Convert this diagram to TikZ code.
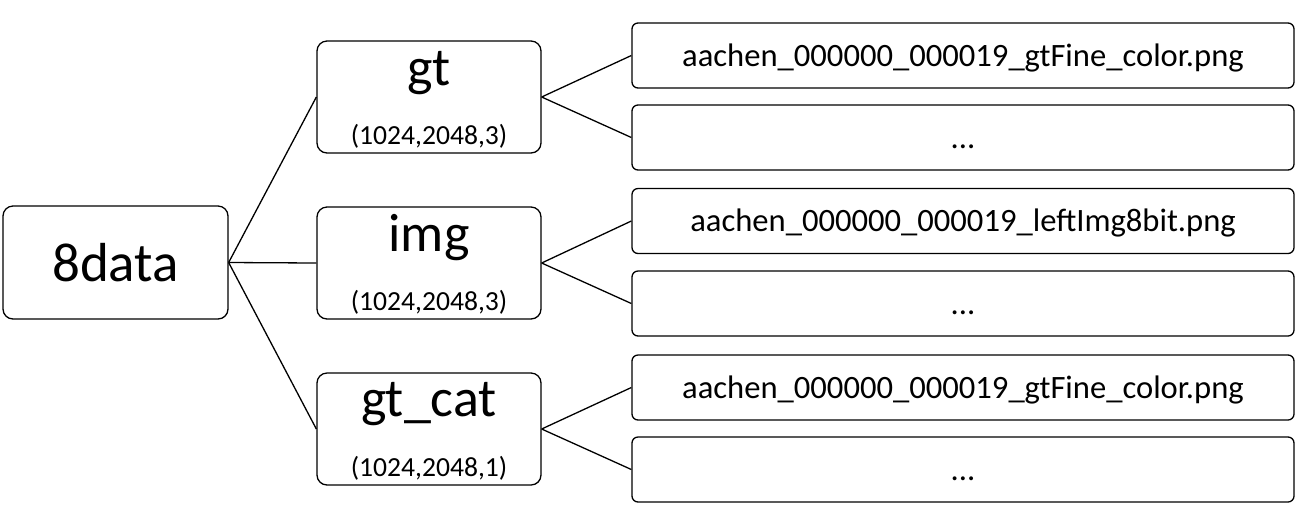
\documentclass[tikz,border=0pt]{standalone}
\usepackage{fontspec}
\setmainfont{Carlito}
\usepackage{tikz}

\tikzset{
  box/.style={draw, line width=0.65pt, rounded corners=5pt, inner sep=0pt},
  rootbox/.style={box, minimum width=112.5pt, minimum height=56.5pt, font=\fontsize{27.5}{30}\selectfont},
  dirbox/.style={box, minimum width=112pt, minimum height=56pt},
  filebox/.style={box, rounded corners=3pt, minimum width=331pt, minimum height=32.5pt,
    text height=12pt, text depth=1.5pt, font=\fontsize{16.3}{18}\selectfont},
  dirname/.style={anchor=base, inner sep=0pt, font=\fontsize{27}{29}\selectfont},
  dirshape/.style={anchor=base, inner sep=0pt, font=\fontsize{13.8}{15}\selectfont},
  link/.style={line width=0.65pt}
}

\begin{document}
\begin{tikzpicture}[x=0.5pt, y=-0.5pt]
  \useasboundingbox (0,0) rectangle (1301,516);

  \node[rootbox] (data) at (115.5,262.5) {8data};

  \node[dirbox] (gt) at (429,97) {};
  \node[dirbox] (img) at (429,263) {};
  \node[dirbox] (cat) at (429,429) {};

  \node[dirname] (gtname) at (429,85) {gt};
  \node[dirshape] (gtshape) at (429,144) {(1024,2048,3)};
  \node[dirname] (imgname) at (429,251) {img};
  \node[dirshape] (imgshape) at (429,310) {(1024,2048,3)};
  \node[dirname] (catname) at (429,416) {gt\_cat};
  \node[dirshape] (catshape) at (429,476) {(1024,2048,1)};

  \node[filebox] (gtfile) at (963,55.5) {aachen\_000000\_000019\_gtFine\_color.png};
  \node[filebox] (gtmore) at (963,137.5) {...};
  \node[filebox] (imgfile) at (963,221) {aachen\_000000\_000019\_leftImg8bit.png};
  \node[filebox] (imgmore) at (963,303.5) {...};
  \node[filebox] (catfile) at (963,387.5) {aachen\_000000\_000019\_gtFine\_color.png};
  \node[filebox] (catmore) at (963,469.5) {...};

  \draw[link] (data.east) -- (gt.west);
  \draw[link] (data.east) -- (img.west);
  \draw[link] (data.east) -- (cat.west);

  \draw[link] (gt.east) -- (gtfile.west);
  \draw[link] (gt.east) -- (gtmore.west);
  \draw[link] (img.east) -- (imgfile.west);
  \draw[link] (img.east) -- (imgmore.west);
  \draw[link] (cat.east) -- (catfile.west);
  \draw[link] (cat.east) -- (catmore.west);
\end{tikzpicture}
\end{document}
